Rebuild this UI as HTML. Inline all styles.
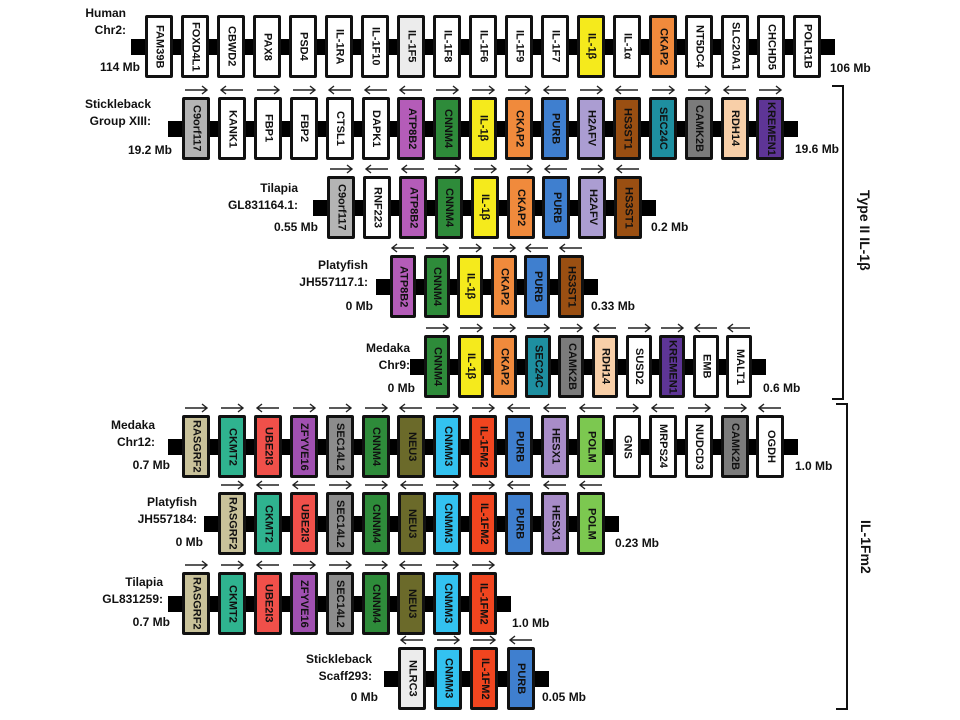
<!DOCTYPE html>
<html><head><meta charset="utf-8">
<style>
html,body{margin:0;padding:0;background:#fff;}
#c{position:relative;width:960px;height:720px;overflow:hidden;font-family:"Liberation Sans",sans-serif;font-weight:bold;color:#111;}
.bar{position:absolute;background:#000;}
.box{position:absolute;box-sizing:border-box;border:3px solid #111;border-radius:2px;display:flex;align-items:center;justify-content:center;}
.box span{writing-mode:vertical-rl;font-size:11px;white-space:nowrap;line-height:1;}
.lbl{position:absolute;font-size:12px;line-height:17px;text-align:right;white-space:nowrap;}
.mb{position:absolute;font-size:12px;white-space:nowrap;}
svg.ar{position:absolute;overflow:visible;}
.br{position:absolute;border:2px solid #111;border-left:none;width:10px;}
.bt{position:absolute;writing-mode:vertical-rl;font-size:14px;white-space:nowrap;}
</style></head><body><div id="c"></div>
<script>
var C={w:'#fff',g:'#b4b4b4',lg:'#ececec',atp:'#b45cb8',cn4:'#2e8b3a',il:'#f5ea1c',ck:'#f08a3c',pu:'#3f7fcf',h2:'#ab9dd2',hs:'#9a4f12',sec:'#1e8fa0',cam:'#7b7b7b',rdh:'#f8cfa8',kr:'#5e3596',ras:'#c9c29a',ckm:'#2fb38f',ube:'#f0504a',zf:'#a050b0',s14:'#8c8c8c',neu:'#6b6a2a',cn3:'#33c2f0',fm:'#f0451f',hx:'#a88cc8',po:'#7cc850'};
var rows=[
{top:15,x0:145,p:36,w:28,arr:null,genes:[['FAM39B','w'],['FOXD4L1','w'],['CBWD2','w'],['PAX8','w'],['PSD4','w'],['IL-1RA','w'],['IL-1F10','w'],['IL-1F5','lg'],['IL-1F8','w'],['IL-1F6','w'],['IL-1F9','w'],['IL-1F7','w'],['IL-1\u03b2','il'],['IL-1\u03b1','w'],['CKAP2','ck'],['NT5DC4','w'],['SLC20A1','w'],['CHCHD5','w'],['POLR1B','w']]},
{top:97,x0:182,p:35.9,w:28,arr:'RLRRLLLRRRLRLRRLR',genes:[['C9orf117','g'],['KANK1','w'],['FBP1','w'],['FBP2','w'],['CTSL1','w'],['DAPK1','w'],['ATP8B2','atp'],['CNNM4','cn4'],['IL-1\u03b2','il'],['CKAP2','ck'],['PURB','pu'],['H2AFV','h2'],['HS3ST1','hs'],['SEC24C','sec'],['CAMK2B','cam'],['RDH14','rdh'],['KREMEN1','kr']]},
{top:176,x0:327,p:35.9,w:28,arr:'RLLRRRLRL',genes:[['C9orf117','g'],['RNF223','w'],['ATP8B2','atp'],['CNNM4','cn4'],['IL-1\u03b2','il'],['CKAP2','ck'],['PURB','pu'],['H2AFV','h2'],['HS3ST1','hs']]},
{top:255,x0:390,p:33.6,w:26,arr:'LRRRLL',genes:[['ATP8B2','atp'],['CNNM4','cn4'],['IL-1\u03b2','il'],['CKAP2','ck'],['PURB','pu'],['HS3ST1','hs']]},
{top:335,x0:424,p:33.6,w:26,arr:'RRRRRLRRLL',genes:[['CNNM4','cn4'],['IL-1\u03b2','il'],['CKAP2','ck'],['SEC24C','sec'],['CAMK2B','cam'],['RDH14','rdh'],['SUSD2','w'],['KREMEN1','kr'],['EMB','w'],['MALT1','w']]},
{top:415,x0:182,p:35.9,w:28,arr:'RRLRRRLRRLLLRLRRL',genes:[['RASGRF2','ras'],['CKMT2','ckm'],['UBE2I3','ube'],['ZFYVE16','zf'],['SEC14L2','s14'],['CNNM4','cn4'],['NEU3','neu'],['CNMM3','cn3'],['IL-1FM2','fm'],['PURB','pu'],['HESX1','hx'],['POLM','po'],['GNS','w'],['MRPS24','w'],['NUDCD3','w'],['CAMK2B','cam'],['OGDH','w']]},
{top:492,x0:218,p:35.9,w:28,arr:'RLLRRLRRLLL',genes:[['RASGRF2','ras'],['CKMT2','ckm'],['UBE2I3','ube'],['SEC14L2','s14'],['CNNM4','cn4'],['NEU3','neu'],['CNMM3','cn3'],['IL-1FM2','fm'],['PURB','pu'],['HESX1','hx'],['POLM','po']]},
{top:572,x0:182,p:35.9,w:28,arr:'RRLRRRLRR',genes:[['RASGRF2','ras'],['CKMT2','ckm'],['UBE2I3','ube'],['ZFYVE16','zf'],['SEC14L2','s14'],['CNNM4','cn4'],['NEU3','neu'],['CNMM3','cn3'],['IL-1FM2','fm']]},
{top:647,x0:398,p:36.2,w:28,arr:'LRRL',genes:[['NLRC3','lg'],['CNMM3','cn3'],['IL-1FM2','fm'],['PURB','pu']]}
];
var H=63,c=document.getElementById('c'),h='';
rows.forEach(function(r){
 var n=r.genes.length,x1=r.x0,x2=r.x0+r.p*(n-1)+r.w,cy=r.top+H/2;
 h+='<div class="bar" style="left:'+(x1-14)+'px;top:'+(cy-8)+'px;width:'+(x2-x1+28)+'px;height:16px"></div>';
 r.genes.forEach(function(g,i){
  var x=r.x0+r.p*i;
  h+='<div class="box" style="left:'+x+'px;top:'+r.top+'px;width:'+r.w+'px;height:'+H+'px;background:'+C[g[1]]+'"><span>'+g[0]+'</span></div>';
  if(r.arr){var d=r.arr[i],ay=r.top-7;
   var p=d=='R'?'M2 4 H24 M19 0 L24 4 L19 8':'M2 4 H24 M7 0 L2 4 L7 8';
   h+='<svg class="ar" style="left:'+(x+r.w/2-13)+'px;top:'+(ay-4)+'px" width="26" height="8"><path d="'+p+'" stroke="#222" stroke-width="1.4" fill="none"/></svg>';}
 });
});
var L=[[88,5,'Human<br>Chr2:',126],[0,96,'Stickleback<br>Group XIII:',151],[0,180,'Tilapia<br>GL831164.1:',298],[0,257,'Platyfish<br>JH557117.1:',368],[0,340,'Medaka<br>Chr9:',410],[0,417,'Medaka<br>Chr12:',155],[0,494,'Platyfish<br>JH557184:',197],[0,574,'Tilapia<br>GL831259:',163],[0,651,'Stickleback<br>Scaff293:',372]];
L.forEach(function(l){h+='<div class="lbl" style="right:'+(960-l[3])+'px;top:'+l[1]+'px">'+l[2]+'</div>';});
var M=[['114 Mb',140,60],['19.2 Mb',172,143],['0.55 Mb',318,220],['0 Mb',373,299],['0 Mb',415,381],['0.7 Mb',170,458],['0 Mb',203,535],['0.7 Mb',170,615],['0 Mb',378,690]];
M.forEach(function(m){h+='<div class="mb" style="right:'+(960-m[1])+'px;top:'+m[2]+'px">'+m[0]+'</div>';});
var R=[['106 Mb',830,61],['19.6 Mb',795,142],['0.2 Mb',651,220],['0.33 Mb',591,299],['0.6 Mb',763,381],['1.0 Mb',795,459],['0.23 Mb',615,536],['1.0 Mb',512,616],['0.05 Mb',542,690]];
R.forEach(function(m){h+='<div class="mb" style="left:'+m[1]+'px;top:'+m[2]+'px">'+m[0]+'</div>';});
h+='<div class="br" style="left:832px;top:85px;height:311px"></div>';
h+='<div class="bt" style="left:857px;top:190px">Type II IL-1\u03b2</div>';
h+='<div class="br" style="left:836px;top:403px;height:303px"></div>';
h+='<div class="bt" style="left:858px;top:520px">IL-1Fm2</div>';
c.innerHTML=h;
</script></body></html>
